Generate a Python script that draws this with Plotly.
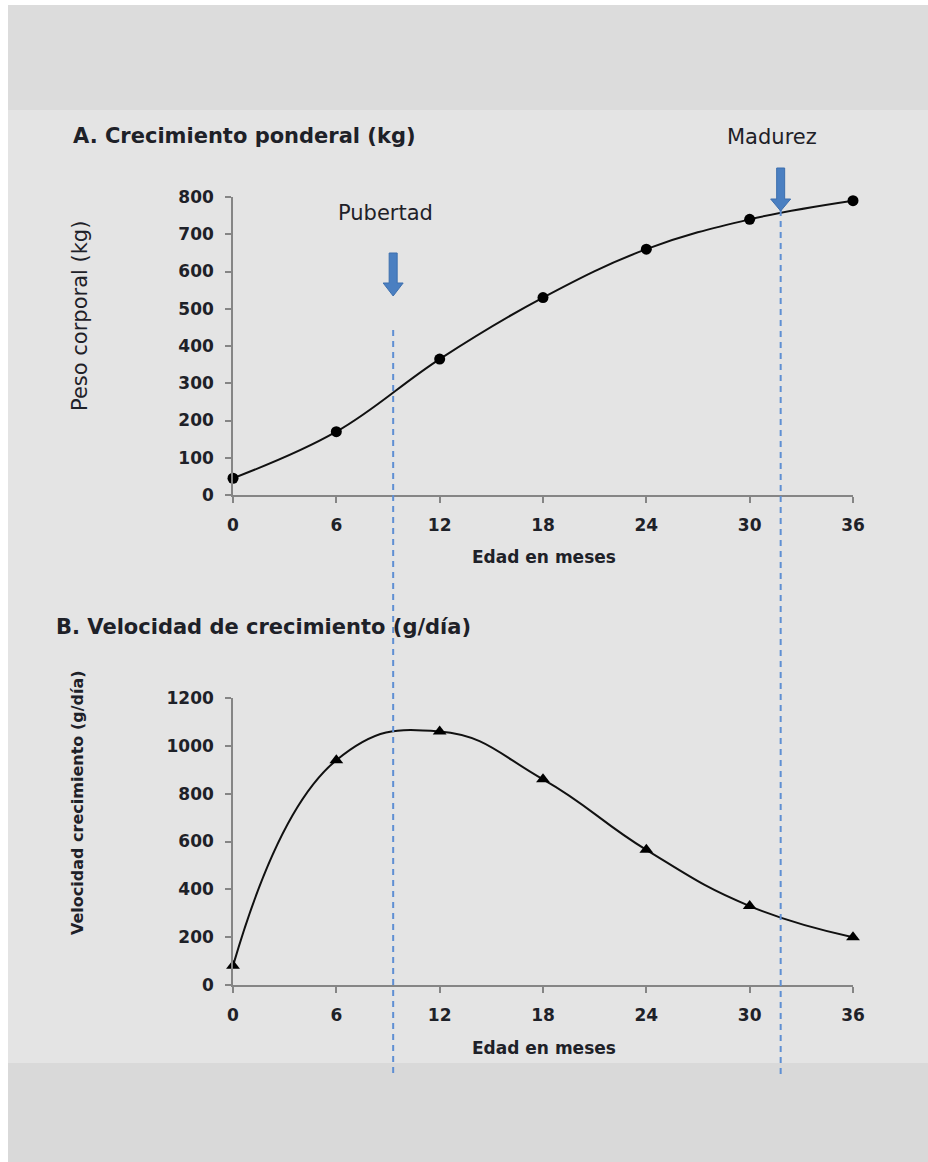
import plotly.graph_objects as go

# --- data -------------------------------------------------------------
edad_meses = [0, 6, 12, 18, 24, 30, 36]
peso_kg = [45, 170, 365, 530, 660, 740, 790]
velocidad_g_dia = [80, 940, 1060, 860, 565, 330, 200]

pubertad_mes = 9.3
madurez_mes = 31.8

x_ticks = [0, 6, 12, 18, 24, 30, 36]
peso_ticks = [0, 100, 200, 300, 400, 500, 600, 700, 800]
vel_ticks = [0, 200, 400, 600, 800, 1000, 1200]

W, H = 928, 1162


def fx(px):
    return px / W


def fy(py):
    return 1 - py / H


TXT = "#1e2128"
AXIS = "#858585"
FONT = "DejaVu Sans"

fig = go.Figure()

# growth in weight
fig.add_trace(go.Scatter(
    x=edad_meses, y=peso_kg, mode="lines+markers",
    line=dict(color="#111111", width=2, shape="spline", smoothing=1.1),
    marker=dict(symbol="circle", size=11, color="#000000"),
    cliponaxis=False, xaxis="x", yaxis="y", showlegend=False,
))

# growth rate
fig.add_trace(go.Scatter(
    x=edad_meses, y=velocidad_g_dia, mode="lines+markers",
    line=dict(color="#111111", width=2, shape="spline", smoothing=1.3),
    marker=dict(symbol="triangle-up", size=12, color="#000000"),
    cliponaxis=False, xaxis="x2", yaxis="y2", showlegend=False,
))

axis_common = dict(
    showgrid=False, zeroline=False, showline=True, linecolor=AXIS, linewidth=1.5,
    ticks="outside", ticklen=6, tickcolor=AXIS, tickwidth=1.5, automargin=False,
    tickfont=dict(family=FONT, size=17, color=TXT, weight="bold"),
)

shapes = []
# background panels
shapes.append(dict(type="rect", xref="paper", yref="paper", x0=fx(8), x1=1.0, y0=fy(5), y1=fy(110),
                   fillcolor="#dcdcdc", line=dict(width=0), layer="below"))
shapes.append(dict(type="rect", xref="paper", yref="paper", x0=fx(8), x1=1.0, y0=fy(110), y1=fy(1063),
                   fillcolor="#e4e4e4", line=dict(width=0), layer="below"))
shapes.append(dict(type="rect", xref="paper", yref="paper", x0=fx(8), x1=1.0, y0=fy(1063), y1=0.0,
                   fillcolor="#d9d9d9", line=dict(width=0), layer="below"))

# dashed reference lines through both panels
shapes.append(dict(type="line", xref="x", yref="paper", x0=pubertad_mes, x1=pubertad_mes,
                   y0=fy(330), y1=fy(1074), line=dict(color="#5f8fd3", width=2, dash="6px,5px")))
shapes.append(dict(type="line", xref="x", yref="paper", x0=madurez_mes, x1=madurez_mes,
                   y0=fy(210), y1=fy(1077), line=dict(color="#5f8fd3", width=2, dash="6px,5px")))


def arrow(mes, tip_py, top_py, head_py):
    # downward block arrow drawn in pixel units around its tip
    L = tip_py - top_py
    h = tip_py - head_py
    path = (f"M -4 {L} L 4 {L} L 4 {h} L 10 {h} L 0 0 L -10 {h} L -4 {h} Z")
    return dict(type="path", xref="x", yref="paper", xsizemode="pixel", ysizemode="pixel",
                xanchor=mes, yanchor=fy(tip_py), path=path,
                fillcolor="#4a7fc1", line=dict(color="#3d6fae", width=1))


shapes.append(arrow(pubertad_mes, 296, 253, 283))
shapes.append(arrow(madurez_mes, 211, 168, 199))

annotations = [
    dict(text="<b>A. Crecimiento ponderal (kg)</b>", x=fx(71), y=fy(136), xref="paper", yref="paper",
         xanchor="left", yanchor="middle", showarrow=False,
         font=dict(family=FONT, size=21, color=TXT)),
    dict(text="<b>B. Velocidad de crecimiento (g/día)</b>", x=fx(54), y=fy(627), xref="paper", yref="paper",
         xanchor="left", yanchor="middle", showarrow=False,
         font=dict(family=FONT, size=21, color=TXT)),
    dict(text="Pubertad", x=fx(385), y=fy(213), xref="paper", yref="paper",
         xanchor="center", yanchor="middle", showarrow=False,
         font=dict(family=FONT, size=21, color=TXT)),
    dict(text="Madurez", x=fx(772), y=fy(137), xref="paper", yref="paper",
         xanchor="center", yanchor="middle", showarrow=False,
         font=dict(family=FONT, size=21, color=TXT)),
    dict(text="Peso corporal (kg)", x=fx(80), y=fy(316), xref="paper", yref="paper",
         xanchor="center", yanchor="middle", showarrow=False, textangle=-90,
         font=dict(family=FONT, size=21, color=TXT)),
    dict(text="<b>Velocidad crecimiento (g/día)</b>", x=fx(77), y=fy(803), xref="paper", yref="paper",
         xanchor="center", yanchor="middle", showarrow=False, textangle=-90,
         font=dict(family=FONT, size=16, color=TXT)),
    dict(text="<b>Edad en meses</b>", x=fx(544), y=fy(557), xref="paper", yref="paper",
         xanchor="center", yanchor="middle", showarrow=False,
         font=dict(family=FONT, size=17, color=TXT)),
    dict(text="<b>Edad en meses</b>", x=fx(544), y=fy(1048), xref="paper", yref="paper",
         xanchor="center", yanchor="middle", showarrow=False,
         font=dict(family=FONT, size=17, color=TXT)),
]

fig.update_layout(
    width=W, height=H, margin=dict(l=0, r=0, t=0, b=0, pad=0),
    paper_bgcolor="#ffffff", plot_bgcolor="rgba(0,0,0,0)",
    xaxis=dict(domain=[fx(233), fx(853)], range=[0, 36], tickvals=x_ticks, anchor="y",
               ticklabelstandoff=8, **axis_common),
    yaxis=dict(domain=[fy(495), fy(197)], range=[0, 800], tickvals=peso_ticks, anchor="x",
               ticklabelstandoff=8, **axis_common),
    xaxis2=dict(domain=[fx(233), fx(853)], range=[0, 36], tickvals=x_ticks, anchor="y2",
                ticklabelstandoff=8, **axis_common),
    yaxis2=dict(domain=[fy(985), fy(698)], range=[0, 1200], tickvals=vel_ticks, anchor="x2",
                ticklabelstandoff=8, **axis_common),
    shapes=shapes, annotations=annotations,
)

fig.write_html("out.html", post_script="document.body.style.margin='0';")
